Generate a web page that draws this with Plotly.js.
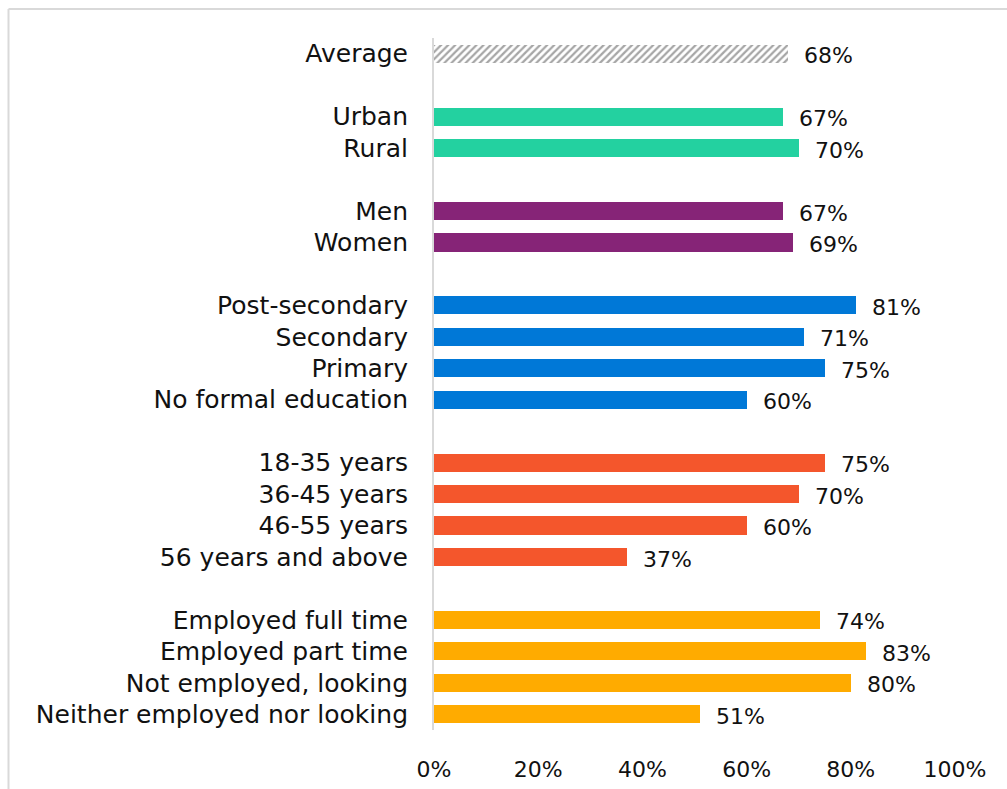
<!DOCTYPE html>
<html>
<head>
<meta charset="utf-8">
<script src="https://cdn.plot.ly/plotly-3.0.1.min.js"></script>
<style>
html,body{margin:0;padding:0;background:#fff;}
#chart{width:1007px;height:789px;}
</style>
</head>
<body>
<div id="chart"></div>
<script>
// Data
const categories = [
  "Average",
  "Urban", "Rural",
  "Men", "Women",
  "Post-secondary", "Secondary", "Primary", "No formal education",
  "18-35 years", "36-45 years", "46-55 years", "56 years and above",
  "Employed full time", "Employed part time", "Not employed, looking", "Neither employed nor looking"
];
const values = [68, 67, 70, 67, 69, 81, 71, 75, 60, 75, 70, 60, 37, 74, 83, 80, 51];
const groups = [0, 1, 1, 2, 2, 3, 3, 3, 3, 4, 4, 4, 4, 5, 5, 5, 5];
const groupColors = ["#a6a6a6", "#23D1A0", "#862477", "#0078D7", "#F4562C", "#FFAB00"];
const xTickVals = [0, 20, 40, 60, 80, 100];
const xTickText = ["0%", "20%", "40%", "60%", "80%", "100%"];

// slot positions: one empty slot between groups
const slots = [];
let s = 0;
for (let i = 0; i < categories.length; i++) {
  if (i > 0 && groups[i] !== groups[i - 1]) s += 1;
  slots.push(s);
  s += 1;
}
const nSlots = s;

const FONT = "DejaVu Sans, sans-serif";
const idxAvg = groups.map((g, i) => g === 0 ? i : -1).filter(i => i >= 0);
const idxRest = groups.map((g, i) => g !== 0 ? i : -1).filter(i => i >= 0);

const traces = [
  {
    type: "bar", orientation: "h",
    x: idxAvg.map(i => values[i]), y: idxAvg.map(i => slots[i]),
    width: 0.58,
    marker: {
      color: "#ffffff",
      line: {width: 0},
      pattern: {shape: "/", fgcolor: groupColors[0], bgcolor: "#ffffff", size: 5, solidity: 0.45}
    },
    hoverinfo: "skip", showlegend: false
  },
  {
    type: "bar", orientation: "h",
    x: idxRest.map(i => values[i]), y: idxRest.map(i => slots[i]),
    width: 0.58,
    marker: {color: idxRest.map(i => groupColors[groups[i]]), line: {width: 0}},
    hoverinfo: "skip", showlegend: false
  }
];

const annotations = values.map((v, i) => ({
  x: v, y: slots[i], xref: "x", yref: "y",
  text: v + "%", showarrow: false,
  xanchor: "left", yanchor: "middle",
  xshift: 14, yshift: -2,
  font: {family: FONT, size: 22, color: "#111111"}
}));

const plotL = 434, plotR = 955, plotT = 38, plotB = 730;
const pw = plotR - plotL, ph = plotB - plotT;
const px2x = p => (p - plotL) / pw;
const py2y = p => (plotB - p) / ph;

const layout = {
  width: 1007, height: 789,
  margin: {l: plotL, r: 1007 - plotR, t: plotT, b: 789 - plotB, pad: 0},
  paper_bgcolor: "#ffffff", plot_bgcolor: "#ffffff",
  font: {family: FONT, color: "#111111"},
  bargap: 0,
  xaxis: {
    range: [0, 100], tickvals: xTickVals, ticktext: xTickText,
    showgrid: false, zeroline: false, showline: false, ticks: "",
    ticklabelstandoff: 24,
    tickfont: {family: FONT, size: 22, color: "#111111"},
    fixedrange: true
  },
  yaxis: {
    range: [nSlots - 0.5, -0.5],
    tickvals: slots, ticktext: categories,
    showgrid: false, zeroline: false,
    showline: true, linecolor: "#d9d9d9", linewidth: 2,
    ticks: "", ticklabelstandoff: 19,
    tickfont: {family: FONT, size: 25, color: "#111111"},
    fixedrange: true
  },
  annotations: annotations,
  shapes: [
    {type: "line", xref: "paper", yref: "paper",
     x0: px2x(8.5), x1: px2x(1010), y0: py2y(9), y1: py2y(9),
     line: {color: "#d9d9d9", width: 2}},
    {type: "line", xref: "paper", yref: "paper",
     x0: px2x(8.5), x1: px2x(8.5), y0: py2y(9), y1: py2y(795),
     line: {color: "#d9d9d9", width: 2}}
  ]
};

Plotly.newPlot("chart", traces, layout, {displayModeBar: false, staticPlot: true});
</script>
</body>
</html>
